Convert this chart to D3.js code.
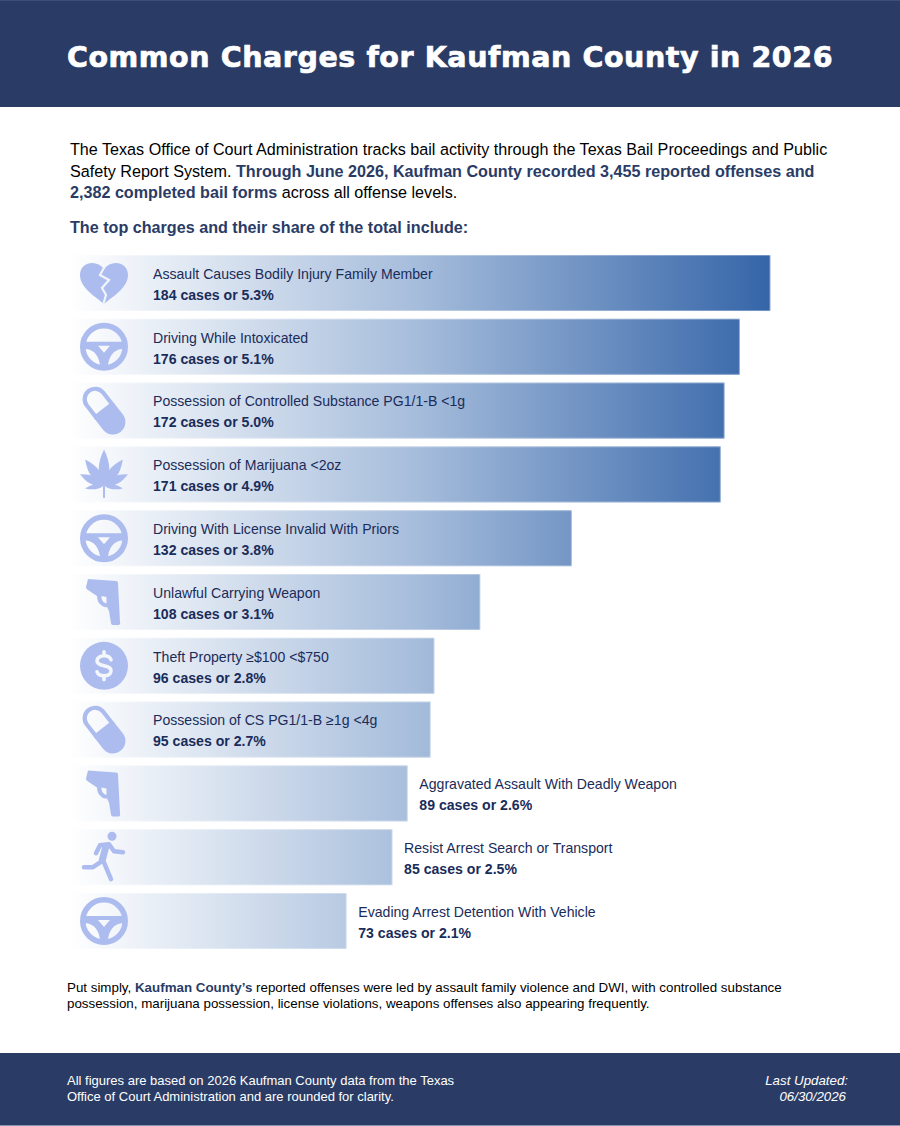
<!DOCTYPE html>
<html><head><meta charset="utf-8">
<script src="https://cdn.jsdelivr.net/npm/d3@7/dist/d3.min.js"></script>
<style>html,body{margin:0;padding:0;background:#fff}svg{display:block}</style>
</head><body><div id="c"></div>
<script>
const charges=["Assault Causes Bodily Injury Family Member","Driving While Intoxicated","Possession of Controlled Substance PG1/1-B <1g","Possession of Marijuana <2oz","Driving With License Invalid With Priors","Unlawful Carrying Weapon","Theft Property ≥$100 <$750","Possession of CS PG1/1-B ≥1g <4g","Aggravated Assault With Deadly Weapon","Resist Arrest Search or Transport","Evading Arrest Detention With Vehicle"];
const cases=[184,176,172,171,132,108,96,95,89,85,73];
const shares=["5.3%","5.1%","5.0%","4.9%","3.8%","3.1%","2.8%","2.7%","2.6%","2.5%","2.1%"];
const icons=["heart","wheel","pill","leaf","wheel","gun","dollar","pill","gun","run","wheel"];
const insideCount=8;

const NAVY="#2a3c66",INK="#1a2c5a",ICON="#adbcef",FONT="'Liberation Sans',Arial,sans-serif";
const svg=d3.select("#c").append("svg").attr("width",900).attr("height",1126).attr("viewBox","0 0 900 1126");
const defs=svg.append("defs");
const x=d3.scaleLinear().domain([0,184]).range([68,770.4]);
const y=d3.scaleBand().domain(charges).range([255,949]).paddingInner(0.122);
const g=defs.append("linearGradient").attr("id","barG").attr("gradientUnits","userSpaceOnUse").attr("x1",68).attr("x2",770).attr("y1",0).attr("y2",0);
g.append("stop").attr("offset",0).attr("stop-color","#ffffff");
g.append("stop").attr("offset",0.5).attr("stop-color","#a5bcdb");
g.append("stop").attr("offset",1).attr("stop-color","#3565a8");

svg.append("rect").attr("width",900).attr("height",1126).attr("fill","#fff");
svg.append("rect").attr("width",900).attr("height",107).attr("fill",NAVY);
svg.append("rect").attr("width",900).attr("height",1).attr("fill","#3d4f78");
svg.append("rect").attr("y",1053).attr("width",900).attr("height",72).attr("fill",NAVY);
svg.append("rect").attr("y",1125).attr("width",900).attr("height",1).attr("fill","#8793b0");
svg.append("text").attr("x",450).attr("y",67).attr("text-anchor","middle").attr("fill","#fff").attr("stroke","#fff").attr("stroke-width",0.7)
 .style("font","bold 28.5px 'DejaVu Sans'").style("letter-spacing","0.58px").text("Common Charges for Kaufman County in 2026");

function rich(yy,xx,size,parts,fill){
 const t=svg.append("text").attr("x",xx).attr("y",yy).style("font",`${size}px ${FONT}`).attr("fill",fill);
 parts.forEach(p=>{const s=t.append("tspan").text(p[0]);if(p[1]){s.attr("font-weight","bold").attr("fill",NAVY)}});
 return t;
}
rich(155,70,16.15,[["The Texas Office of Court Administration tracks bail activity through the Texas Bail Proceedings and Public"]],"#000");
rich(177,70,16.15,[["Safety Report System. "],["Through June 2026, Kaufman County recorded 3,455 reported offenses and",1]],"#000");
rich(198,70,16.15,[["2,382 completed bail forms",1],[" across all offense levels."]],"#000");
rich(233,70,16.15,[["The top charges and their share of the total include:",1]],"#000");

const row=svg.append("g").selectAll("g").data(charges).join("g").attr("transform",d=>`translate(0,${y(d)})`);
row.append("rect").attr("x",x(0)).attr("width",(d,i)=>x(cases[i])-x(0)).attr("height",y.bandwidth()).attr("fill","url(#barG)");
row.append("rect").attr("x",(d,i)=>x(cases[i])-1).attr("width",1.5).attr("height",y.bandwidth()).attr("fill","#fff").attr("opacity",.35);
row.append("rect").attr("x",x(0)).attr("width",(d,i)=>x(cases[i])-x(0)).attr("height",1).attr("fill","#fff").attr("opacity",.3);
row.append("rect").attr("x",x(0)).attr("y",y.bandwidth()-1).attr("width",(d,i)=>x(cases[i])-x(0)).attr("height",1).attr("fill","#fff").attr("opacity",.3);
const lx=(i)=>i<insideCount?153:x(cases[i])+11.6;
row.append("text").attr("x",(d,i)=>lx(i)).attr("y",23.9).attr("fill",INK).style("font",`14.1px ${FONT}`).text(d=>d);
row.append("text").attr("x",(d,i)=>lx(i)).attr("y",44.8).attr("fill",INK).style("font",`bold 14.1px ${FONT}`).text((d,i)=>`${cases[i]} cases or ${shares[i]}`);

const leaflet=(len,w)=>`M0,0 C${-w},${-.3*len} ${-w},${-.6*len} 0,${-len} C${w},${-.6*len} ${w},${-.3*len} 0,0Z`;
const drawers={
 heart(s){
  s.append("path").attr("fill",ICON).attr("d","M0,21 C-8,14 -24,5 -24,-8 C-24,-16 -18,-20 -12,-20 C-7,-20 -3,-18 0,-14 C3,-18 7,-20 12,-20 C18,-20 24,-16 24,-8 C24,5 8,14 0,21Z");
  s.append("path").attr("fill","none").attr("stroke","#f1f4f9").attr("stroke-width",2.2).attr("d","M1,-17 L-4,-8 L5,-3 L-2,5 L2,12 L-1,22");
 },
 wheel(s){
  s.append("circle").attr("r",21.2).attr("fill","none").attr("stroke",ICON).attr("stroke-width",5.6);
  s.append("path").attr("fill",ICON).attr("fill-rule","evenodd").attr("d","M-21,-5 H21 V2 C12,2 6,6 4,18 V21 H-4 V18 C-6,6 -12,2 -21,2Z M-6,-1 H6 L0,6Z");
 },
 pill(s){
  s.append("g").attr("transform","rotate(52)").call(p=>{
   p.append("path").attr("fill",ICON).attr("d","M0,-12.5 H14.5 A12.5,12.5 0 0 1 14.5,12.5 H0Z");
   p.append("path").attr("fill","none").attr("stroke",ICON).attr("stroke-width",4.2).attr("d","M0,-10.4 H-14.5 A10.4,10.4 0 0 0 -14.5,10.4 H0Z");
  });
 },
 leaf(s){
  s.append("g").attr("transform","translate(0,11)").call(p=>{
   [[0,36,7],[36,32,6.5],[-36,32,6.5],[65,26.4,5.5],[-65,26.4,5.5],[99,19.2,3],[-99,19.2,3]].forEach(a=>{
    p.append("path").attr("fill",ICON).attr("transform",`rotate(${a[0]})`).attr("d",leaflet(a[1],a[2]));
   });
   p.append("rect").attr("x",-1).attr("y",0).attr("width",2).attr("height",12.5).attr("fill",ICON);
  });
 },
 gun(s){
  s.append("path").attr("fill",ICON).attr("fill-rule","evenodd").attr("d","M-16,-23 L12,-21 Q14,-21 14,-19 L16,20 Q17,22 15,23 L10,23 Q7,23 7,21 L5,9 L3,5 Q-1,6 -4,2 Q-7,-1 -7,-6 L-16,-12 Q-18,-13 -18,-15Z M-2.5,-6 Q-3,0 2.5,1.5 L2.5,-5Z");
 },
 dollar(s){
  s.append("circle").attr("r",24).attr("fill",ICON);
  s.append("path").attr("fill","none").attr("stroke","#f3f6fa").attr("stroke-width",3.6).attr("stroke-linecap","round")
   .attr("d","M7,-6 C6,-9 3,-10 0,-10 C-4,-10 -7,-8 -7,-5 C-7,-1 -3,-1 0,0 C3,1 7,1 7,5 C7,8 4,10 0,10 C-3,10 -6,9 -7,6 M0,-14 V-10 M0,10 V14");
 },
 run(s){
  s.append("circle").attr("cx",8).attr("cy",-21).attr("r",4.5).attr("fill",ICON);
  s.append("path").attr("fill","none").attr("stroke",ICON).attr("stroke-width",7).attr("d","M2,-11 L-2,4");
  s.append("path").attr("fill","none").attr("stroke",ICON).attr("stroke-width",4.5).attr("stroke-linecap","round").attr("stroke-linejoin","round")
   .attr("d","M-8,-4 L-4,-12 L5,-13 L10,-6 L19,-5 M-1,3 L7,22 M-2,4 L-11,10 L-20,10");
 }
};
row.append("g").attr("transform",d=>`translate(104,${y.bandwidth()/2})`).each(function(d,i){drawers[icons[i]](d3.select(this))});

rich(992,67,13.35,[["Put simply, "],["Kaufman County’s",1],[" reported offenses were led by assault family violence and DWI, with controlled substance"]],"#000");
rich(1008,67,13.35,[["possession, marijuana possession, license violations, weapons offenses also appearing frequently."]],"#000");
rich(1085,67,13,[["All figures are based on 2026 Kaufman County data from the Texas"]],"#fff");
rich(1101,67,13,[["Office of Court Administration and are rounded for clarity."]],"#fff");
svg.append("text").attr("x",848).attr("y",1085).attr("text-anchor","end").attr("fill","#fff").style("font",`italic 13.3px ${FONT}`).text("Last Updated:");
svg.append("text").attr("x",846).attr("y",1101).attr("text-anchor","end").attr("fill","#fff").style("font",`italic 13.3px ${FONT}`).text("06/30/2026");
</script></body></html>
